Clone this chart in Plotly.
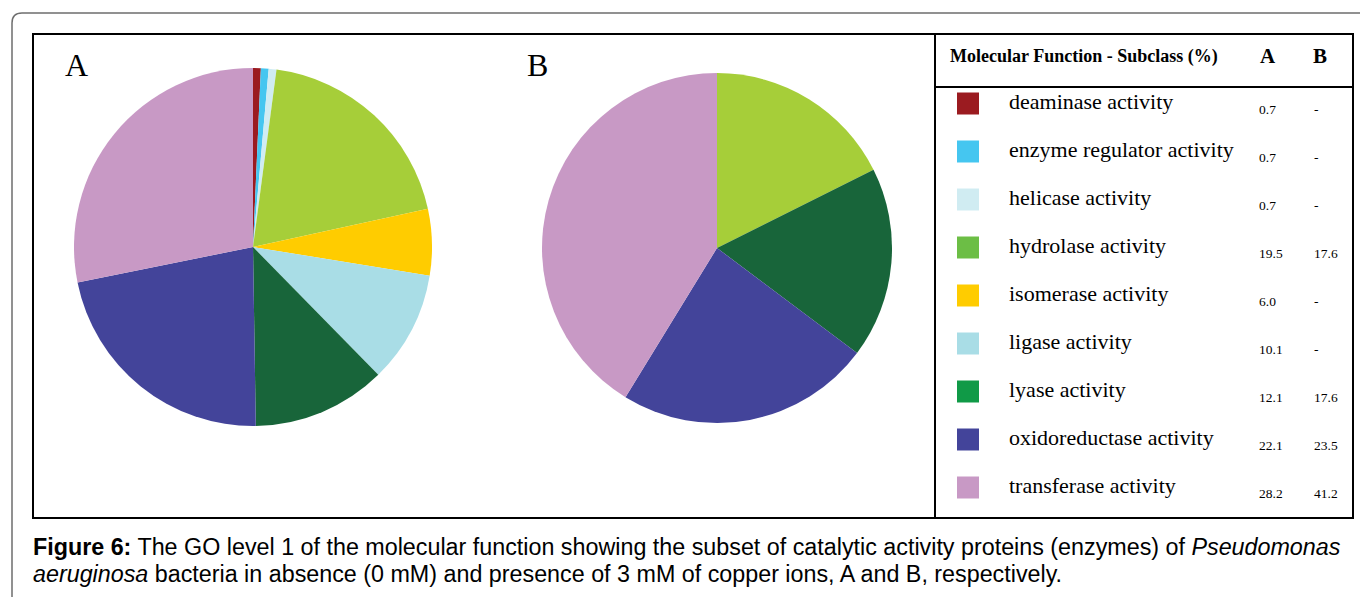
import plotly.graph_objects as go

W, H = 1360, 597

# Molecular function subclasses of catalytic activity (%)
categories = [
    "deaminase activity",
    "enzyme regulator activity",
    "helicase activity",
    "hydrolase activity",
    "isomerase activity",
    "ligase activity",
    "lyase activity",
    "oxidoreductase activity",
    "transferase activity",
]
values_a = [0.7, 0.7, 0.7, 19.5, 6.0, 10.1, 12.1, 22.1, 28.2]
values_b = [None, None, None, 17.6, None, None, 17.6, 23.5, 41.2]

pie_colors = ["#9B1B20", "#45C6F0", "#D0ECF2", "#A6CE39", "#FFCC00",
              "#A9DDE6", "#18653A", "#43449A", "#C899C5"]
key_colors = ["#9B1B20", "#45C6F0", "#D0ECF2", "#6CBE45", "#FFCC00",
              "#A9DDE6", "#109A47", "#43449A", "#C899C5"]

SERIF = "Liberation Serif, Times New Roman, serif"
SANS = "Liberation Sans, Arial, sans-serif"


def px(x):
    return x / W


def py(y):
    return 1 - y / H


def pie_domain(cx, cy, r):
    return dict(x=[px(cx - r), px(cx + r)], y=[py(cy + r), py(cy - r)])


def pie_trace(vals, domain):
    labs, vs, cols = [], [], []
    for lab, v, c in zip(categories, vals, pie_colors):
        if v:
            labs.append(lab)
            vs.append(v)
            cols.append(c)
    return go.Pie(
        labels=labs, values=vs, sort=False, direction="clockwise", rotation=0,
        marker=dict(colors=cols, line=dict(width=0)),
        textinfo="none", hoverinfo="label+percent", showlegend=False,
        domain=domain,
    )


fig = go.Figure()
fig.add_trace(pie_trace(values_a, pie_domain(253, 247, 179)))
fig.add_trace(pie_trace(values_b, pie_domain(717, 248, 175)))

shapes = []
# outer rounded frame
shapes.append(dict(
    type="path", xref="paper", yref="paper",
    path=(f"M {px(12)},{py(610)} L {px(12)},{py(23)} "
          f"Q {px(12)},{py(13)} {px(22)},{py(13)} L {px(1375)},{py(13)}"),
    line=dict(color="#6e6e6e", width=1.5),
))
# inner panel frame
shapes.append(dict(type="rect", xref="paper", yref="paper",
                   x0=px(33), x1=px(1353), y0=py(518), y1=py(34),
                   line=dict(color="black", width=2)))
shapes.append(dict(type="line", xref="paper", yref="paper",
                   x0=px(935), x1=px(935), y0=py(518), y1=py(34),
                   line=dict(color="black", width=2)))
shapes.append(dict(type="line", xref="paper", yref="paper",
                   x0=px(935), x1=px(1353), y0=py(87), y1=py(87),
                   line=dict(color="black", width=2)))

annotations = []


def text(x, y, s, size, font=SERIF, xanchor="left", color="black"):
    annotations.append(dict(
        x=px(x), y=py(y), xref="paper", yref="paper", text=s,
        showarrow=False, xanchor=xanchor, yanchor="middle",
        font=dict(family=font, size=size, color=color),
    ))


text(63, 65, "A", 32)
text(525, 65, "B", 32)

text(948, 56, "<b>Molecular Function - Subclass (%)</b>", 18)
text(1268, 56, "<b>A</b>", 21, xanchor="center")
text(1320, 56, "<b>B</b>", 21, xanchor="center")

ROW0, PITCH = 103.5, 48
for i, (lab, a, b, c) in enumerate(zip(categories, values_a, values_b, key_colors)):
    yc = ROW0 + i * PITCH
    shapes.append(dict(type="rect", xref="paper", yref="paper",
                       x0=px(957), x1=px(979), y0=py(yc + 11), y1=py(yc - 11),
                       fillcolor=c, line=dict(width=0)))
    text(1007, yc - 2, lab, 22)
    text(1257, yc + 6, f"{a:.1f}" if a else "-", 13.5)
    text(1312, yc + 6, f"{b:.1f}" if b else "-", 13.5)

text(31, 547, "<b>Figure 6:</b> The GO level 1 of the molecular function showing the "
     "subset of catalytic activity proteins (enzymes) of <i>Pseudomonas</i>", 23.3, SANS)
text(31, 574, "<i>aeruginosa</i> bacteria in absence (0 mM) and presence of 3 mM of "
     "copper ions, A and B, respectively.", 23.3, SANS)

fig.update_layout(
    width=W, height=H,
    margin=dict(l=0, r=0, t=0, b=0),
    paper_bgcolor="white", plot_bgcolor="white",
    shapes=shapes, annotations=annotations,
)

fig.write_html("out.html")
